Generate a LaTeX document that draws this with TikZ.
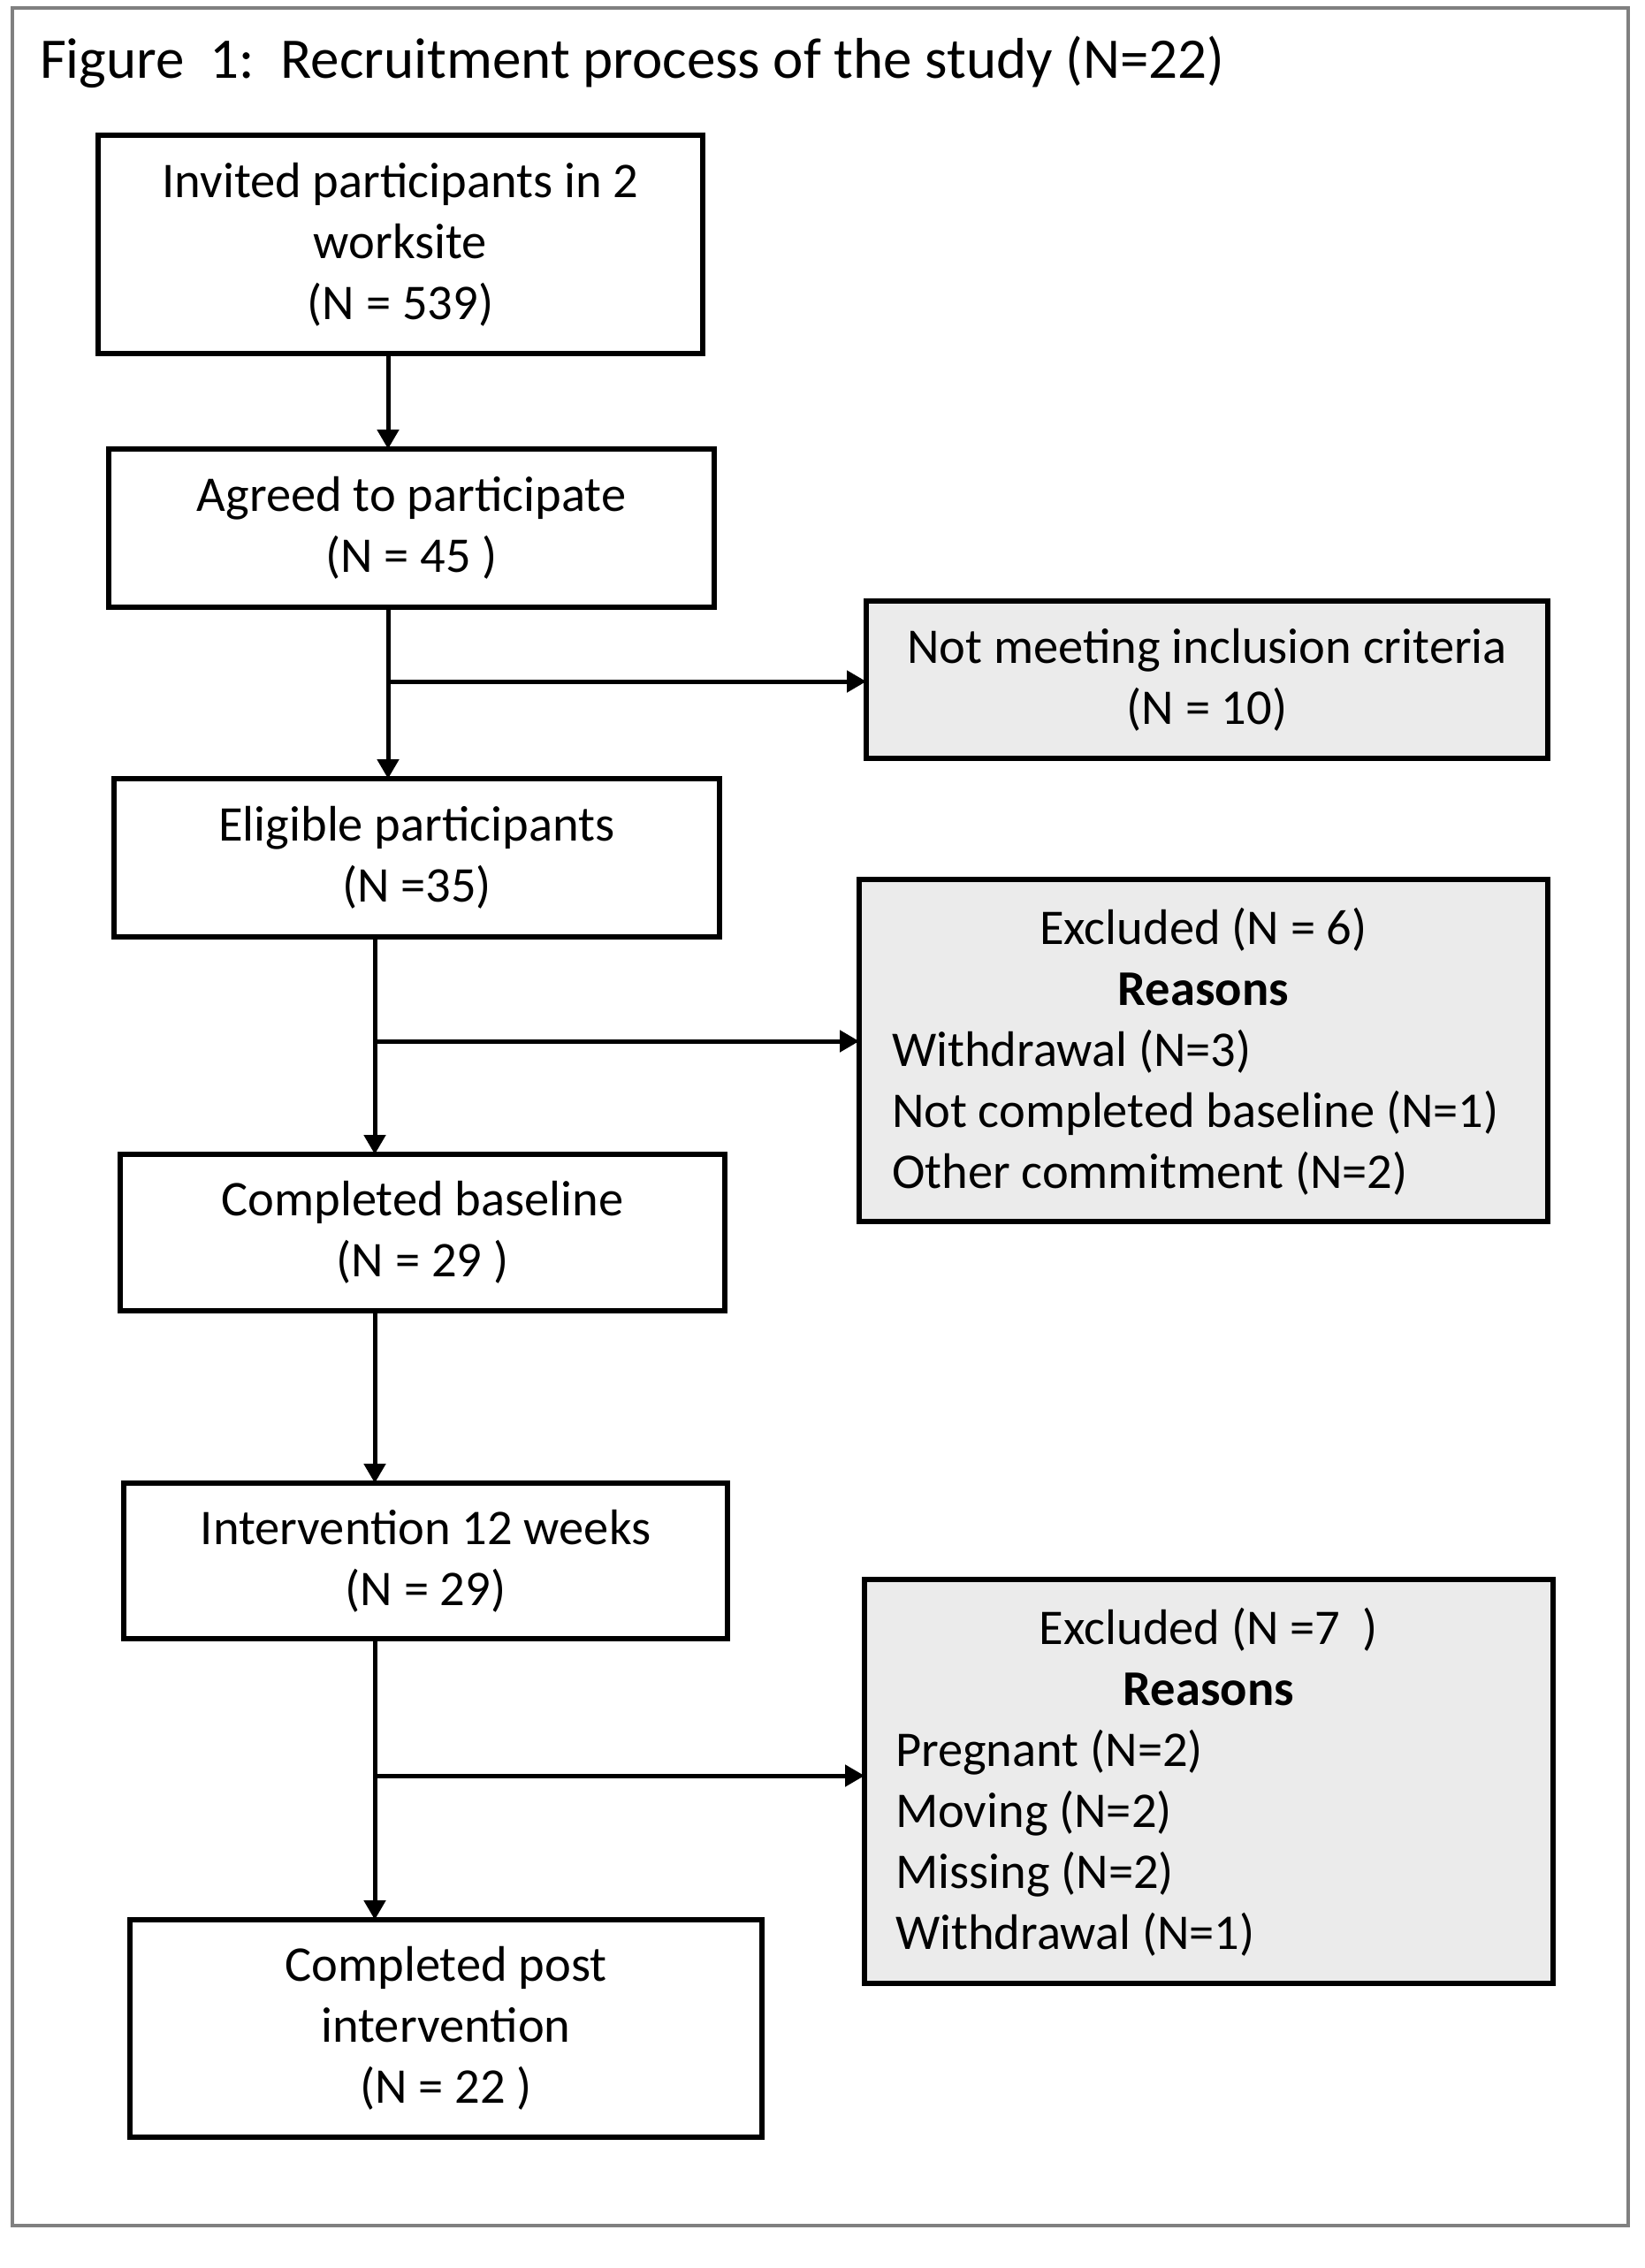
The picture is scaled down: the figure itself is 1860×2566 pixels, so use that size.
\documentclass[tikz,border=0pt]{standalone}
\usepackage{fontspec}
\setmainfont{Carlito}
\usetikzlibrary{arrows.meta}
\begin{document}
\begin{tikzpicture}[x=1pt,y=-1pt,
  every node/.style={inner sep=0pt, outer sep=0pt},
  boxfont/.style={font=\fontsize{56.5}{69}\selectfont},
  mainbox/.style={draw=black, line width=6pt, align=center, boxfont},
  sidebox/.style={draw=black, line width=6pt, fill=black!8},
  ctxt/.style={anchor=base, boxfont},
  ltxt/.style={anchor=base west, boxfont},
  btxt/.style={anchor=base, font=\fontsize{56.5}{69}\selectfont\bfseries},
  arr/.style={line width=5pt, -{Triangle[length=22pt,width=24pt]}},
  frame/.style={draw=black!50, line width=4pt}]
\useasboundingbox (0,0) rectangle (1860,2566);
\fill[white] (0,0) rectangle (1860,2566);
\draw[frame] (14,9) rectangle (1842,2518);

\node[anchor=base west, font=\fontsize{65}{78}\selectfont] (title) at (45,89)
  {Figure\ \ 1:\ \ Recruitment process of the study (N=22)};

% main column
\node[mainbox, minimum width=684pt, minimum height=247pt] (b1) at (453,276.5)
  {Invited participants in 2\\worksite\\(N = 539)};
\node[mainbox, minimum width=685pt, minimum height=179pt] (b2) at (465.5,597.5)
  {Agreed to participate\\(N = 45 )};
\node[mainbox, minimum width=685pt, minimum height=179pt] (b3) at (471.5,970.5)
  {Eligible participants\\(N =35)};
\node[mainbox, minimum width=684pt, minimum height=177pt] (b4) at (478,1394.5)
  {Completed baseline\\(N = 29 )};
\node[mainbox, minimum width=683pt, minimum height=176pt] (b5) at (481.5,1766)
  {Intervention 12 weeks\\(N = 29)};
\node[mainbox, minimum width=715pt, minimum height=246pt] (b6) at (504.5,2295)
  {Completed post\\intervention\\(N = 22 )};

% side boxes
\node[mainbox, fill=black!8, minimum width=771pt, minimum height=178pt] (nm) at (1365.5,769)
  {Not meeting inclusion criteria\\(N = 10)};

\node[sidebox, minimum width=779pt, minimum height=387pt] (ex6) at (1361.5,1188.5) {};
\node[ctxt] (e6a) at (1361.5,1068) {Excluded (N = 6)};
\node[btxt] (e6b) at (1361.5,1137) {Reasons};
\node[ltxt] (e6c) at (1009,1206) {Withdrawal (N=3)};
\node[ltxt] (e6d) at (1009,1275) {Not completed baseline (N=1)};
\node[ltxt] (e6e) at (1009,1344) {Other commitment (N=2)};

\node[sidebox, minimum width=779pt, minimum height=457pt] (ex7) at (1367.5,2015.5) {};
\node[ctxt] (e7a) at (1367.5,1860) {Excluded (N =7\ \ )};
\node[btxt] (e7b) at (1367.5,1929) {Reasons};
\node[ltxt] (e7c) at (1013,1998) {Pregnant (N=2)};
\node[ltxt] (e7d) at (1013,2067) {Moving (N=2)};
\node[ltxt] (e7e) at (1013,2136) {Missing (N=2)};
\node[ltxt] (e7f) at (1013,2205) {Withdrawal (N=1)};

% connectors
\coordinate (t1) at (439,0);
\coordinate (t2) at (424,0);
\coordinate (br1) at (0,771);
\coordinate (br2) at (0,1178);
\coordinate (br3) at (0,2009);

\draw[arr] (b1.south -| t1) -- (b2.north -| t1);
\draw[arr] (b2.south -| t1) -- (b3.north -| t1);
\draw[arr] (t1 |- br1) -- (nm.west |- br1);
\draw[arr] (b3.south -| t2) -- (b4.north -| t2);
\draw[arr] (t2 |- br2) -- (ex6.west |- br2);
\draw[arr] (b4.south -| t2) -- (b5.north -| t2);
\draw[arr] (b5.south -| t2) -- (b6.north -| t2);
\draw[arr] (t2 |- br3) -- (ex7.west |- br3);
\end{tikzpicture}
\end{document}
